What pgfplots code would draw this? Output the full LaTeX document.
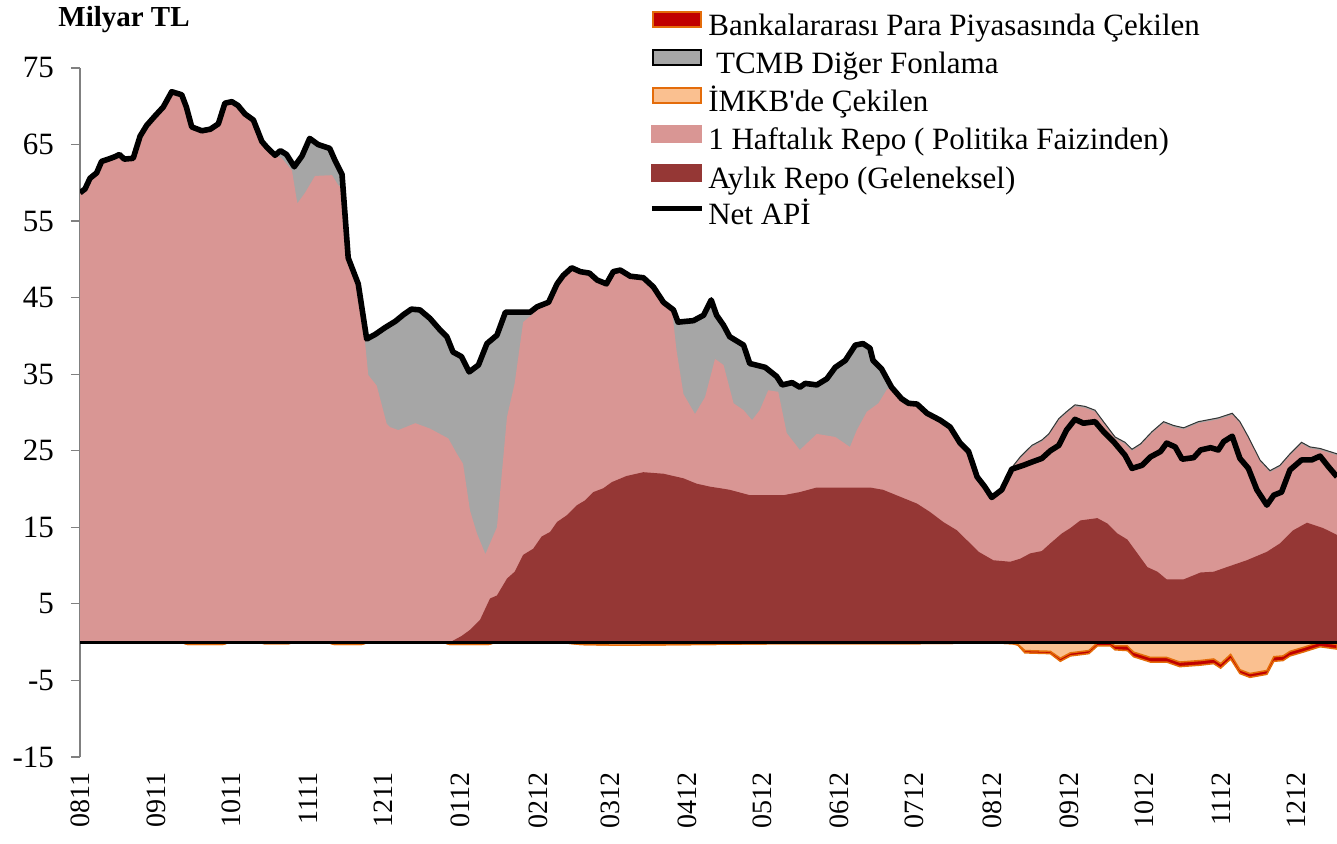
\documentclass[border=0pt]{standalone}
\usepackage{fontspec}
\setmainfont{Liberation Serif}
\usepackage{pgfplots}
\pgfplotsset{compat=1.18}
\definecolor{pinkA}{HTML}{D99694}
\definecolor{darkA}{HTML}{953735}
\definecolor{grayA}{HTML}{A6A6A6}
\definecolor{orA}{HTML}{FAC090}
\definecolor{orB}{HTML}{E46C0A}
\definecolor{redA}{HTML}{C00000}
\begin{document}
\begin{tikzpicture}
\begin{axis}[
  scale only axis, width=628.5pt, height=344.5pt,
  xmin=0, xmax=16.31, ymin=-15, ymax=75,
  axis lines*=left,
  x axis line style={draw=none},
  y axis line style={draw=gray, line width=0.6pt},
  ytick={-15,-5,...,75},
  xtick={0,0.990,1.961,2.964,3.936,4.939,5.942,6.880,7.883,8.855,9.858,10.829,11.832,12.835,13.806,14.811,15.781},
  xticklabels={0811,0911,1011,1111,1211,0112,0212,0312,0412,0512,0612,0712,0812,0912,1012,1112,1212},
  tick align=outside, major tick length=4.5pt,
  ytick style={draw=gray, line width=0.6pt},
  xtick style={draw=none},
  yticklabel style={font=\fontsize{15.5}{18}\selectfont},
  yticklabel shift=5pt,
  xticklabel style={font=\fontsize{14}{16}\selectfont, rotate=90, anchor=east},
  xticklabel shift=-0.5pt,
  /pgf/number format/assume math mode=true,
  clip mode=individual,
  legend style={at={(0.4526,1.083)}, anchor=north west, draw=none, fill=none,
    font=\fontsize{15.5}{18}\selectfont, row sep=3pt, column sep=2pt, inner sep=0pt,
    nodes={inner sep=0pt, text height=11pt, text depth=4pt}},
  legend cell align=left,
]
\addlegendimage{legend image code/.code={\draw[fill=redA,draw=orB,line width=1pt] (0.5pt,0.5pt) rectangle (24.5pt,8pt);}}
\addlegendentry{Bankalararası Para Piyasasında Çekilen}
\addlegendimage{legend image code/.code={\draw[fill=grayA,draw=black,line width=1pt] (0.5pt,0.5pt) rectangle (24.5pt,8pt);}}
\addlegendentry{\ TCMB Diğer Fonlama}
\addlegendimage{legend image code/.code={\draw[fill=orA,draw=orB,line width=1pt] (0.5pt,0.5pt) rectangle (24.5pt,8pt);}}
\addlegendentry{İMKB\textquotesingle de Çekilen}
\addlegendimage{legend image code/.code={\fill[pinkA] (0pt,0pt) rectangle (25pt,8.5pt);}}
\addlegendentry{1 Haftalık Repo ( Politika Faizinden)}
\addlegendimage{legend image code/.code={\fill[darkA] (0pt,0pt) rectangle (25pt,8.5pt);}}
\addlegendentry{Aylık Repo (Geleneksel)}
\addlegendimage{legend image code/.code={\draw[black,line width=2.5pt] (0pt,4.5pt) -- (25pt,4.5pt);}}
\addlegendentry{Net APİ}

% TCMB Diger Fonlama (cumulative top of positive stack)
\addplot[draw=none, fill=grayA, forget plot] coordinates {
(0,58.7) (0.065,59.2) (0.13,60.6) (0.216,61.3) (0.28,62.8) (0.37,63.1) (0.45,63.4) (0.51,63.7)
(0.575,63.1) (0.69,63.2) (0.78,66.1) (0.865,67.5) (0.97,68.7) (1.08,69.9) (1.19,71.9) (1.32,71.5)
(1.38,69.9) (1.45,67.3) (1.58,66.8) (1.69,67.0) (1.795,67.7) (1.88,70.4) (1.97,70.6) (2.05,70.1)
(2.14,69.0) (2.25,68.2) (2.36,65.4) (2.42,64.7) (2.53,63.6) (2.6,64.2) (2.68,63.7) (2.78,62.1)
(2.88,63.5) (2.98,65.8) (3.09,65.0) (3.24,64.5) (3.31,62.9) (3.4,61.1) (3.48,50.2) (3.61,46.8)
(3.72,39.6) (3.83,40.2) (3.96,41.1) (4.09,41.9) (4.2,42.8) (4.3,43.5) (4.41,43.4) (4.54,42.3)
(4.67,40.8) (4.76,39.9) (4.84,37.9) (4.95,37.3) (5.05,35.3) (5.17,36.2) (5.28,39.0) (5.41,40.1)
(5.52,43.1) (5.67,43.1) (5.84,43.1) (5.93,43.8) (6.08,44.4) (6.19,46.8) (6.27,47.9) (6.38,48.9)
(6.49,48.4) (6.61,48.2) (6.71,47.3) (6.83,46.8) (6.92,48.4) (7.01,48.6) (7.14,47.8) (7.31,47.6)
(7.44,46.4) (7.57,44.4) (7.70,43.4) (7.76,41.8) (7.96,42.0) (8.09,42.7) (8.19,44.7) (8.26,42.7)
(8.35,41.4) (8.43,39.9) (8.61,38.8) (8.69,36.4) (8.89,35.9) (9.04,34.7) (9.11,33.6) (9.24,33.9)
(9.34,33.3) (9.41,33.8) (9.56,33.6) (9.69,34.4) (9.80,35.9) (9.93,36.8) (10.06,38.8) (10.16,39.0)
(10.25,38.4) (10.29,36.8) (10.40,35.7) (10.53,33.3) (10.66,31.8) (10.75,31.2) (10.86,31.1) (10.99,29.9)
(11.16,29.0) (11.29,28.1) (11.42,26.0) (11.53,24.9) (11.64,21.6) (11.74,20.3) (11.83,18.9) (11.96,19.9)
(12.09,22.8) (12.2,24.2) (12.35,25.7) (12.48,26.4) (12.57,27.2) (12.70,29.2) (12.80,30.1) (12.91,31.0)
(13.04,30.8) (13.17,30.3) (13.28,28.8) (13.43,26.8) (13.56,26.1) (13.65,25.2) (13.76,25.9) (13.91,27.5)
(14.06,28.8) (14.19,28.3) (14.32,28.0) (14.51,28.8) (14.77,29.3) (14.95,29.9) (15.05,28.8) (15.16,26.8)
(15.31,23.8) (15.44,22.4) (15.57,23.1) (15.70,24.6) (15.85,26.1) (15.96,25.5) (16.09,25.3) (16.31,24.6)
} \closedcycle;

% 1 Haftalik Repo (cumulative top)
\addplot[draw=none, fill=pinkA, forget plot] coordinates {
(0,58.7) (0.065,59.2) (0.13,60.6) (0.216,61.3) (0.28,62.8) (0.37,63.1) (0.45,63.4) (0.51,63.7)
(0.575,63.1) (0.69,63.2) (0.78,66.1) (0.865,67.5) (0.97,68.7) (1.08,69.9) (1.19,71.9) (1.32,71.5)
(1.38,69.9) (1.45,67.3) (1.58,66.8) (1.69,67.0) (1.795,67.7) (1.88,70.4) (1.97,70.6) (2.05,70.1)
(2.14,69.0) (2.25,68.2) (2.36,65.4) (2.42,64.7) (2.53,63.6) (2.62,63.2) (2.75,61.6) (2.82,57.3)
(2.92,58.7) (3.05,60.9) (3.27,61.0) (3.35,59.7) (3.40,59.2) (3.44,56.0) (3.48,50.0) (3.61,46.6)
(3.67,42.0) (3.74,34.9) (3.85,33.5) (3.98,28.5) (4.02,28.1) (4.13,27.7) (4.35,28.6) (4.54,27.9)
(4.78,26.6) (4.89,24.6) (4.97,23.3) (5.06,17.2) (5.15,14.2) (5.26,11.5) (5.41,15.0) (5.54,29.4)
(5.64,33.8) (5.75,41.8) (5.88,42.9) (5.93,43.8) (6.08,44.4) (6.19,46.8) (6.27,47.9) (6.38,48.9)
(6.49,48.4) (6.61,48.2) (6.71,47.3) (6.83,46.8) (6.92,48.4) (7.01,48.6) (7.14,47.8) (7.31,47.6)
(7.44,46.4) (7.57,44.4) (7.68,43.5) (7.74,38.1) (7.83,32.4) (7.98,29.8) (8.11,32.0) (8.24,37.0)
(8.35,36.2) (8.48,31.2) (8.61,30.3) (8.72,29.0) (8.82,30.3) (8.93,32.9) (9.06,32.7) (9.17,27.3)
(9.34,25.1) (9.56,27.2) (9.80,26.8) (9.99,25.5) (10.08,27.7) (10.21,30.1) (10.36,31.2) (10.47,33.0)
(10.53,33.3) (10.66,31.8) (10.75,31.2) (10.86,31.1) (10.99,29.9) (11.16,29.0) (11.29,28.1) (11.42,26.0)
(11.53,24.9) (11.64,21.6) (11.74,20.3) (11.83,18.9) (11.96,19.9) (12.09,22.6) (12.2,24.0) (12.35,25.5)
(12.48,26.2) (12.57,27.0) (12.70,29.0) (12.80,29.9) (12.91,30.8) (13.04,30.6) (13.17,30.1) (13.28,28.6)
(13.43,26.6) (13.56,25.9) (13.65,25.0) (13.76,25.7) (13.91,27.3) (14.06,28.6) (14.19,28.1) (14.32,27.8)
(14.51,28.6) (14.77,29.1) (14.95,29.7) (15.05,28.6) (15.16,26.6) (15.31,23.6) (15.44,22.2) (15.57,22.9)
(15.70,24.4) (15.85,25.9) (15.96,25.3) (16.09,25.1) (16.31,24.4)
} \closedcycle;

% Aylik Repo (Geleneksel)
\addplot[draw=none, fill=darkA, forget plot] coordinates {
(0,0) (4.80,0) (4.84,0.2) (4.95,0.8) (5.06,1.6) (5.19,2.9) (5.32,5.7) (5.41,6.1) (5.54,8.3)
(5.64,9.2) (5.75,11.4) (5.88,12.2) (5.99,13.8) (6.10,14.4) (6.19,15.7) (6.32,16.6) (6.45,17.9)
(6.55,18.5) (6.66,19.6) (6.79,20.1) (6.90,20.9) (7.09,21.7) (7.31,22.2) (7.57,22.0) (7.83,21.4)
(8.00,20.7) (8.18,20.3) (8.31,20.1) (8.43,19.9) (8.69,19.2) (9.13,19.2) (9.34,19.6) (9.56,20.2)
(10.25,20.2) (10.42,19.9) (10.64,19.0) (10.86,18.1) (11.03,17.0) (11.20,15.7) (11.38,14.6) (11.51,13.3)
(11.66,11.8) (11.85,10.7) (12.07,10.5) (12.20,10.9) (12.33,11.6) (12.48,11.9) (12.59,12.9) (12.74,14.2)
(12.85,14.9) (12.98,15.9) (13.20,16.2) (13.33,15.5) (13.46,14.2) (13.59,13.4) (13.72,11.6) (13.85,9.8)
(13.98,9.2) (14.10,8.2) (14.32,8.2) (14.54,9.1) (14.71,9.2) (14.88,9.8) (15.14,10.7) (15.40,11.8)
(15.57,12.9) (15.74,14.6) (15.92,15.6) (16.13,14.9) (16.31,14.0)
} \closedcycle;

% thin outline of TCMB Diger Fonlama on top
\addplot[black!80, line width=0.5pt, forget plot] coordinates {
(12.09,22.8) (12.2,24.2) (12.35,25.7) (12.48,26.4) (12.57,27.2) (12.70,29.2) (12.80,30.1) (12.91,31.0)
(13.04,30.8) (13.17,30.3) (13.28,28.8) (13.43,26.8) (13.56,26.1) (13.65,25.2) (13.76,25.9) (13.91,27.5)
(14.06,28.8) (14.19,28.3) (14.32,28.0) (14.51,28.8) (14.77,29.3) (14.95,29.9) (15.05,28.8) (15.16,26.8)
(15.31,23.8) (15.44,22.4) (15.57,23.1) (15.70,24.6) (15.85,26.1) (15.96,25.5) (16.09,25.3) (16.31,24.6)
};

% Bankalararasi Para Piyasasinda Cekilen (cumulative bottom)
\addplot[fill=redA, draw=orB, line width=0.75pt, forget plot] coordinates {
(0,0) (1.3,0) (1.4,-0.3) (1.85,-0.3) (1.95,0) (2.3,0) (2.4,-0.2) (2.7,-0.2) (2.8,0) (3.2,0)
(3.3,-0.3) (3.65,-0.3) (3.75,0) (4.7,0) (4.8,-0.3) (5.3,-0.3) (5.4,0) (6.2,0) (6.5,-0.3) (7.0,-0.4)
(8.0,-0.3) (9.0,-0.2) (10.6,-0.2) (11.9,-0.1) (12.1,-0.2) (12.17,-0.4) (12.26,-1.4) (12.59,-1.5)
(12.72,-2.5) (12.85,-1.8) (13.09,-1.5) (13.20,-0.5) (13.37,-0.5) (13.43,-1.0) (13.59,-1.1) (13.67,-1.9)
(13.89,-2.6) (14.10,-2.6) (14.27,-3.2) (14.54,-3.0) (14.71,-2.8) (14.80,-3.4) (14.93,-2.2) (15.05,-4.1)
(15.18,-4.6) (15.40,-4.2) (15.49,-2.5) (15.61,-2.4) (15.70,-1.8) (15.87,-1.3) (16.09,-0.6) (16.31,-0.9)
} \closedcycle;

% IMKB'de Cekilen
\addplot[fill=orA, draw=orB, line width=0.75pt, forget plot] coordinates {
(0,0) (1.3,0) (1.4,-0.3) (1.85,-0.3) (1.95,0) (2.3,0) (2.4,-0.2) (2.7,-0.2) (2.8,0) (3.2,0)
(3.3,-0.3) (3.65,-0.3) (3.75,0) (4.7,0) (4.8,-0.3) (5.3,-0.3) (5.4,0) (6.2,0) (6.5,-0.3) (7.0,-0.4)
(8.0,-0.3) (9.0,-0.2) (10.6,-0.2) (11.9,-0.1) (12.1,-0.2) (12.17,-0.3) (12.26,-1.1) (12.59,-1.2)
(12.72,-2.1) (12.85,-1.4) (13.09,-1.1) (13.20,-0.1) (13.37,-0.1) (13.43,-0.5) (13.59,-0.5) (13.67,-1.3)
(13.89,-2.0) (14.10,-2.0) (14.27,-2.6) (14.54,-2.4) (14.71,-2.2) (14.80,-2.8) (14.93,-1.6) (15.05,-3.6)
(15.18,-4.1) (15.40,-3.7) (15.49,-1.9) (15.61,-1.8) (15.70,-1.2) (15.87,-0.7) (16.09,0) (16.31,-0.3)
} \closedcycle;

% zero line
\addplot[black, line width=1.5pt, forget plot] coordinates {(0,0) (16.31,0)};

% Net API
\addplot[black, line width=2.8pt, line join=round, forget plot] coordinates {
(0,58.7) (0.065,59.2) (0.13,60.6) (0.216,61.3) (0.28,62.8) (0.37,63.1) (0.45,63.4) (0.51,63.7)
(0.575,63.1) (0.69,63.2) (0.78,66.1) (0.865,67.5) (0.97,68.7) (1.08,69.9) (1.19,71.9) (1.32,71.5)
(1.38,69.9) (1.45,67.3) (1.58,66.8) (1.69,67.0) (1.795,67.7) (1.88,70.4) (1.97,70.6) (2.05,70.1)
(2.14,69.0) (2.25,68.2) (2.36,65.4) (2.42,64.7) (2.53,63.6) (2.6,64.2) (2.68,63.7) (2.78,62.1)
(2.88,63.5) (2.98,65.8) (3.09,65.0) (3.24,64.5) (3.31,62.9) (3.4,61.1) (3.48,50.2) (3.61,46.8)
(3.72,39.6) (3.83,40.2) (3.96,41.1) (4.09,41.9) (4.2,42.8) (4.3,43.5) (4.41,43.4) (4.54,42.3)
(4.67,40.8) (4.76,39.9) (4.84,37.9) (4.95,37.3) (5.05,35.3) (5.17,36.2) (5.28,39.0) (5.41,40.1)
(5.52,43.1) (5.67,43.1) (5.84,43.1) (5.93,43.8) (6.08,44.4) (6.19,46.8) (6.27,47.9) (6.38,48.9)
(6.49,48.4) (6.61,48.2) (6.71,47.3) (6.83,46.8) (6.92,48.4) (7.01,48.6) (7.14,47.8) (7.31,47.6)
(7.44,46.4) (7.57,44.4) (7.70,43.4) (7.76,41.8) (7.96,42.0) (8.09,42.7) (8.19,44.7) (8.26,42.7)
(8.35,41.4) (8.43,39.9) (8.61,38.8) (8.69,36.4) (8.89,35.9) (9.04,34.7) (9.11,33.6) (9.24,33.9)
(9.34,33.3) (9.41,33.8) (9.56,33.6) (9.69,34.4) (9.80,35.9) (9.93,36.8) (10.06,38.8) (10.16,39.0)
(10.25,38.4) (10.29,36.8) (10.40,35.7) (10.53,33.3) (10.66,31.8) (10.75,31.2) (10.86,31.1) (10.99,29.9)
(11.16,29.0) (11.29,28.1) (11.42,26.0) (11.53,24.9) (11.64,21.6) (11.74,20.3) (11.83,18.9) (11.96,19.9)
(12.09,22.6) (12.24,23.1) (12.37,23.6) (12.48,24.0) (12.59,25.0) (12.70,25.7) (12.80,27.7) (12.91,29.1)
(13.02,28.6) (13.17,28.8) (13.28,27.5) (13.41,26.2) (13.56,24.4) (13.65,22.7) (13.78,23.1) (13.89,24.2)
(14.02,24.9) (14.10,26.0) (14.21,25.5) (14.30,23.9) (14.45,24.1) (14.54,25.1) (14.67,25.4) (14.77,25.1)
(14.84,26.2) (14.95,26.9) (15.05,24.0) (15.16,22.7) (15.27,19.9) (15.40,17.9) (15.49,19.2) (15.59,19.6)
(15.70,22.5) (15.85,23.8) (15.98,23.8) (16.09,24.3) (16.20,22.9) (16.31,21.6)
};

\node[anchor=base west, inner sep=0pt, font=\bfseries\fontsize{14.5}{16}\selectfont] at (rel axis cs:-0.0175,1.0595) {Milyar TL};
\coordinate (bbSW) at (rel axis cs:-0.06364,-0.12627);
\coordinate (bbNE) at (rel axis cs:1,1.09869);
\end{axis}
\pgfresetboundingbox
\useasboundingbox (bbSW) rectangle (bbNE);
\end{tikzpicture}
\end{document}
